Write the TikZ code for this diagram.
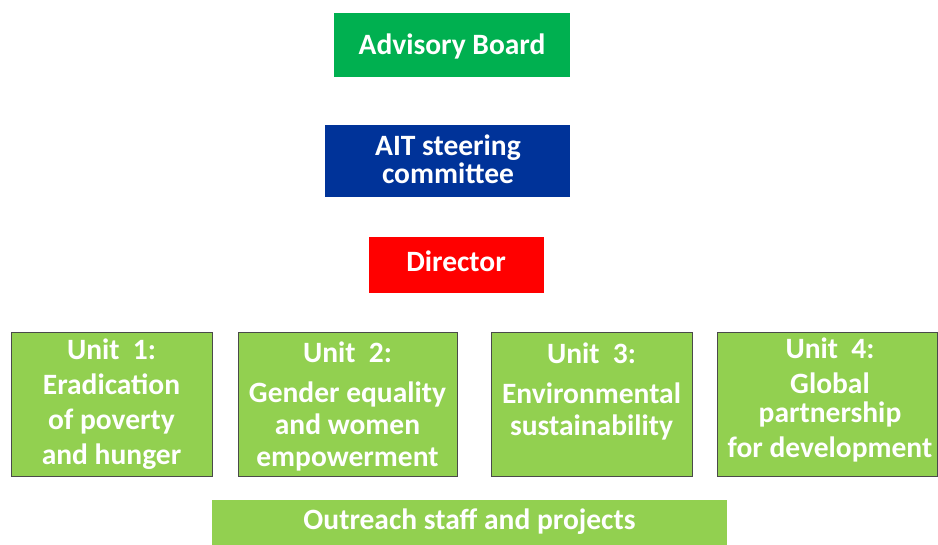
\documentclass[tikz,border=0pt]{standalone}
\usepackage{fontspec}
\setmainfont{Carlito}
\definecolor{advgreen}{HTML}{00B050}
\definecolor{aitblue}{HTML}{003399}
\definecolor{dirred}{HTML}{FF0000}
\definecolor{unitgreen}{HTML}{92D050}
\definecolor{unitedge}{HTML}{4A4A4A}
\tikzset{
  box/.style={anchor=north west, inner sep=0pt, outer sep=0pt},
  unitbox/.style={box, fill=unitgreen, draw=unitedge, line width=0.8pt},
  label/.style={text=white, font=\fontsize{29.5}{35}\selectfont\bfseries, align=center, inner sep=0pt},
}
\begin{document}
\begin{tikzpicture}[x=1pt,y=-1pt]
\useasboundingbox (0,0) rectangle (938,545);
% top boxes
\node[box, fill=advgreen, minimum width=236pt, minimum height=64pt] (adv) at (334,13) {};
\node[label] (advt) at (452,46) {Advisory Board};
\node[box, fill=aitblue, minimum width=245pt, minimum height=72pt] (ait) at (325,125) {};
\node[label] (aitt) at (448,159) {AIT steering\\[-7pt]committee};
\node[box, fill=dirred, minimum width=175pt, minimum height=56pt] (dir) at (369,237) {};
\node[label] (dirt) at (456,261) {Director};
% units
\node[unitbox, minimum width=201pt, minimum height=144pt] (u1) at (11,332) {};
\node[label] (u1t) at (111.5,404) {Unit\ \ 1:\\Eradication\\of poverty\\and hunger};
\node[unitbox, minimum width=219pt, minimum height=144pt] (u2) at (238,332) {};
\node[label] (u2t) at (347.5,406) {Unit\ \ 2:\\[5pt]Gender equality\\[-3pt]and women\\[-3pt]empowerment};
\node[unitbox, minimum width=201pt, minimum height=144pt] (u3) at (491,332) {};
\node[label] (u3t) at (591.5,391) {Unit\ \ 3:\\[5pt]Environmental\\[-3pt]sustainability};
\node[unitbox, minimum width=220pt, minimum height=144pt] (u4) at (717,332) {};
\node[label] (u4t) at (830,400) {Unit\ \ 4:\\Global\\[-6pt]partnership\\for development};
% outreach
\node[box, fill=unitgreen, minimum width=515pt, minimum height=45pt] (out) at (212,500) {};
\node[label] (outt) at (469.5,522) {Outreach staff and projects};
\end{tikzpicture}
\end{document}
